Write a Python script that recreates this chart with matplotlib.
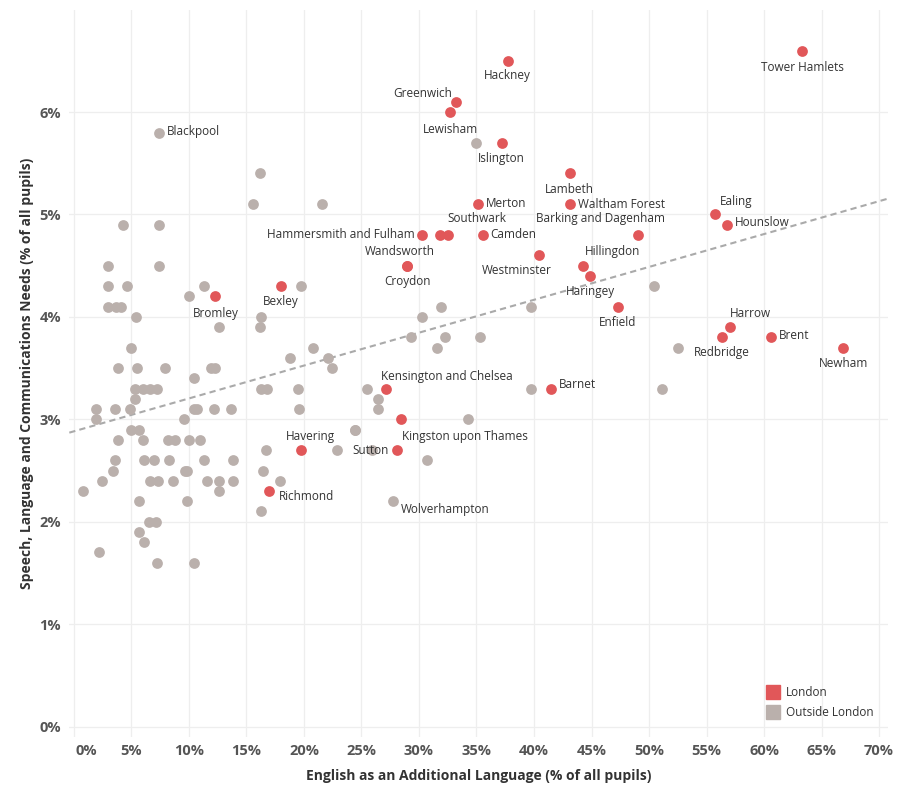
import numpy as np
import matplotlib.pyplot as plt
from matplotlib.patches import Rectangle
import matplotlib.transforms as mtransforms

plt.rcParams['font.family'] = ['Open Sans', 'DejaVu Sans']

# London boroughs: EAL %, SLCN %
london_names = ['Tower Hamlets', 'Hackney', 'Greenwich', 'Lewisham', 'Islington', 'Lambeth',
                'Merton', 'Waltham Forest', 'Ealing', 'Hounslow', 'Hammersmith and Fulham',
                '', 'Southwark', 'Camden', 'Barking and Dagenham', 'Wandsworth', 'Croydon',
                'Westminster', 'Hillingdon', 'Haringey', 'Enfield', 'Bexley', 'Bromley',
                'Harrow', 'Redbridge', 'Brent', 'Newham', 'Kensington and Chelsea', 'Barnet',
                'Kingston upon Thames', 'Havering', 'Sutton', 'Richmond']
london_eal = [63.3, 37.7, 33.2, 32.7, 37.2, 43.1, 35.1, 43.1, 55.7, 56.8, 30.3,
              31.8, 32.5, 35.6, 49.0, 29.0, 29.0, 40.4, 44.3, 44.9, 47.3, 18.0, 12.3,
              57.0, 56.3, 60.6, 66.9, 27.1, 41.5, 28.4, 19.7, 28.1, 17.0]
london_slcn = [6.6, 6.5, 6.1, 6.0, 5.7, 5.4, 5.1, 5.1, 5.0, 4.9, 4.8,
               4.8, 4.8, 4.8, 4.8, 4.5, 4.5, 4.6, 4.5, 4.4, 4.1, 4.3, 4.2,
               3.9, 3.8, 3.8, 3.7, 3.3, 3.3, 3.0, 2.7, 2.7, 2.3]
# label offsets in pixels (dx, dy, ha)
london_off = [(0, -17, 'center'), (0, -15, 'center'), (-4, 8, 'right'), (0, -17, 'center'),
              (0, -16, 'center'), (0, -16, 'center'), (8, 1, 'left'), (8, 0, 'left'),
              (5, 13, 'left'), (8, 2, 'left'), (-8, 0, 'right'), (0, 0, 'center'),
              (29, 16, 'center'), (7, 0, 'left'), (-37, 16, 'center'), (-8, 14, 'center'),
              (0, -16, 'center'), (-22, -15, 'center'), (1, 14, 'left'), (0, -16, 'center'),
              (0, -16, 'center'), (0, -15, 'center'), (0, -17, 'center'), (21, 14, 'center'),
              (0, -15, 'center'), (8, 2, 'left'), (0, -16, 'center'), (61, 12, 'center'),
              (8, 4, 'left'), (1, -17, 'left'), (10, 14, 'center'), (-8, 0, 'right'),
              (9, -6, 'left')]

# Outside London (pixel-read estimates converted to %)
other_eal = [7.4, 16.2, 15.6, 21.6, 4.3, 7.4, 3.0, 7.4, 3.0, 4.6, 11.3, 19.7, 3.0, 3.7, 4.1,
             10.0, 5.4, 16.3, 12.6, 16.2, 5.0, 20.8, 3.8, 5.5, 7.9, 11.9, 12.3, 18.8, 22.1,
             22.4, 10.4, 5.3, 6.0, 6.6, 7.2, 16.3, 16.8, 19.5, 5.3, 1.9, 3.6, 4.9, 10.4, 10.7,
             12.2, 13.7, 19.6, 1.9, 9.6, 5.0, 5.7, 24.4, 3.8, 6.0, 8.2, 8.8, 10.0, 11.0, 16.7,
             25.9, 3.6, 6.1, 7.0, 8.3, 9.7, 11.3, 13.8, 3.4, 9.8, 16.4, 2.4, 6.6, 7.3, 8.6,
             11.6, 12.6, 13.8, 17.9, 0.8, 12.6, 5.7, 9.8, 16.3, 6.5, 7.1, 5.7, 6.1, 2.2, 7.2,
             10.4, 35.0, 31.9, 30.3, 31.6, 32.3, 35.3, 30.7, 39.7, 50.4, 52.5, 51.1, 39.7,
             25.5, 26.4, 26.4, 24.4, 22.9, 34.3, 29.3, 27.7]
other_slcn = [5.8, 5.4, 5.1, 5.1, 4.9, 4.9, 4.5, 4.5, 4.3, 4.3, 4.3, 4.3, 4.1, 4.1, 4.1,
              4.2, 4.0, 4.0, 3.9, 3.9, 3.7, 3.7, 3.5, 3.5, 3.5, 3.5, 3.5, 3.6, 3.6,
              3.5, 3.4, 3.3, 3.3, 3.3, 3.3, 3.3, 3.3, 3.3, 3.2, 3.1, 3.1, 3.1, 3.1, 3.1,
              3.1, 3.1, 3.1, 3.0, 3.0, 2.9, 2.9, 2.9, 2.8, 2.8, 2.8, 2.8, 2.8, 2.8, 2.7,
              2.7, 2.6, 2.6, 2.6, 2.6, 2.5, 2.6, 2.6, 2.5, 2.5, 2.5, 2.4, 2.4, 2.4, 2.4,
              2.4, 2.4, 2.4, 2.4, 2.3, 2.3, 2.2, 2.2, 2.1, 2.0, 2.0, 1.9, 1.8, 1.7, 1.6,
              1.6, 5.7, 4.1, 4.0, 3.7, 3.8, 3.8, 2.6, 4.1, 4.3, 3.7, 3.3, 3.3,
              3.3, 3.2, 3.1, 2.9, 2.7, 3.0, 3.8, 2.2]
n = min(len(other_eal), len(other_slcn))
other_eal, other_slcn = other_eal[:n], other_slcn[:n]
other_names = {0: ('Blackpool', 8, 1, 'left'), n - 1: ('Wolverhampton', 8, -8, 'left')}

red = '#e15759'
grey = '#bab0ac'

fig = plt.figure(figsize=(9, 8), dpi=100)
ax = fig.add_axes([0.077, 0.079, 0.910, 0.909])

ax.scatter(other_eal, other_slcn, s=60, color=grey, zorder=3, linewidths=0)
ax.scatter(london_eal, london_slcn, s=60, color=red, zorder=4, linewidths=0)

all_x = np.array(other_eal + london_eal)
all_y = np.array(other_slcn + london_slcn)
k, b = np.polyfit(all_x, all_y, 1)
xs = np.array([-0.4, 70.8])
ax.plot(xs, k * xs + b, ls=(0, (3, 2)), color='#aaaaaa', lw=1.5, zorder=2)

px = 0.72
for name, x, y, (dx, dy, ha) in zip(london_names, london_eal, london_slcn, london_off):
    if name:
        ax.annotate(name, (x, y), xytext=(dx * px, dy * px), textcoords='offset points',
                    ha=ha, va='center', fontsize=8.5, color='#333333', zorder=5)
for i, (name, dx, dy, ha) in other_names.items():
    ax.annotate(name, (other_eal[i], other_slcn[i]), xytext=(dx * px, dy * px),
                textcoords='offset points', ha=ha, va='center', fontsize=8.5,
                color='#333333', zorder=5)

ax.set_xlim(-0.4, 70.8)
ax.set_ylim(-0.1, 7.0)
ax.set_xticks(np.arange(0, 71, 5))
ax.set_xticklabels([f'{v}%' for v in range(0, 71, 5)])
ax.set_yticks(np.arange(0, 7, 1))
ax.set_yticklabels([f'{v}%' for v in range(0, 7)])
ax.grid(True, color='#eeeeee', lw=0.9, zorder=0)
for s in ax.spines.values():
    s.set_visible(False)
ax.tick_params(axis='x', length=0, labelsize=10.5, labelcolor='#555555', pad=5)
ax.tick_params(axis='y', length=0, labelsize=10.5, labelcolor='#555555', pad=6)
for t in ax.get_xticklabels() + ax.get_yticklabels():
    t.set_fontweight('bold')
first = ax.get_xticklabels()[0]
first.set_transform(first.get_transform() + mtransforms.ScaledTranslation(0.12, 0, fig.dpi_scale_trans))
ax.set_xlabel('English as an Additional Language (% of all pupils)', fontsize=10,
              fontweight='bold', color='#333333', labelpad=8)
ax.set_ylabel('Speech, Language and Communications Needs (% of all pupils)', fontsize=10,
              fontweight='bold', color='#333333', labelpad=4)

# legend
for i, (lab, c) in enumerate([('London', red), ('Outside London', grey)]):
    yy = 1 - (692 + 20 * i) / 800
    fig.patches.append(Rectangle((766 / 900, yy - 0.009), 14 / 900, 0.018, color=c,
                                 transform=fig.transFigure))
    fig.text(786 / 900, yy, lab, fontsize=8.5, color='#333333', va='center')

fig.savefig('out.png')
